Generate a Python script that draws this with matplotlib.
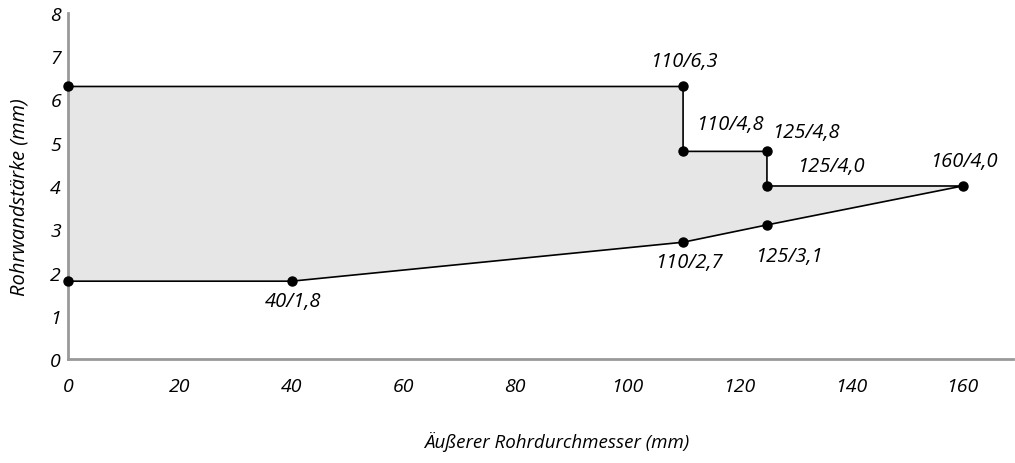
import matplotlib
matplotlib.use("Agg")
import matplotlib.pyplot as plt

# Outline of the permitted range (outer diameter / wall thickness)
diam = [0, 110, 110, 125, 125, 160, 125, 110, 40, 0]
wall = [6.3, 6.3, 4.8, 4.8, 4.0, 4.0, 3.1, 2.7, 1.8, 1.8]

# labelled corner points and where their labels sit
labels = ["110/6,3", "110/4,8", "125/4,8", "125/4,0", "160/4,0", "110/2,7", "125/3,1", "40/1,8"]
label_pos = [(110.2, 6.88), (118.4, 5.43), (132.0, 5.24), (136.5, 4.46),
             (160.3, 4.57), (111.0, 2.24), (129.0, 2.38), (40.2, 1.34)]

x_ticks = [0, 20, 40, 60, 80, 100, 120, 140, 160]
y_ticks = [0, 1, 2, 3, 4, 5, 6, 7, 8]

plt.rcParams['font.family'] = ['Open Sans', 'DejaVu Sans']
plt.rcParams['font.style'] = 'italic'

fig = plt.figure(figsize=(10.15, 4.64), dpi=100)
ax = fig.add_axes([0.067, 0.224, 0.931, 0.746])

ax.fill(diam, wall, color='#e6e6e6', lw=0, zorder=1)
ax.plot(diam, wall, color='black', lw=1.2, zorder=3, clip_on=False)
ax.plot(diam, wall, 'o', color='black', ms=6.5, zorder=4, clip_on=False)

for txt, (tx, ty) in zip(labels, label_pos):
    ax.text(tx, ty, txt, ha='center', va='center', fontsize=14.5, style='italic')

ax.set_xlim(0, 169)
ax.set_ylim(0, 8)
ax.set_xticks(x_ticks)
ax.set_yticks(y_ticks)
ax.tick_params(length=0, labelsize=14)
ax.tick_params(axis='x', pad=13)
ax.tick_params(axis='y', pad=5)
for lab in ax.get_xticklabels() + ax.get_yticklabels():
    lab.set_style('italic')

for side in ['top', 'right']:
    ax.spines[side].set_visible(False)
for side in ['left', 'bottom']:
    ax.spines[side].set_color('#999999')
    ax.spines[side].set_linewidth(2)
    ax.spines[side].set_zorder(2)

ax.set_xlabel("Äußerer Rohrdurchmesser (mm)", fontsize=13.5, style='italic')
ax.set_ylabel("Rohrwandstärke (mm)", fontsize=14.5, style='italic')
ax.xaxis.set_label_coords(0.517, -0.237)
ax.yaxis.set_label_coords(-0.051, 0.471)
ax.xaxis.label.set_va('center')
ax.yaxis.label.set_va('center')

fig.savefig("out.png", dpi=100)
